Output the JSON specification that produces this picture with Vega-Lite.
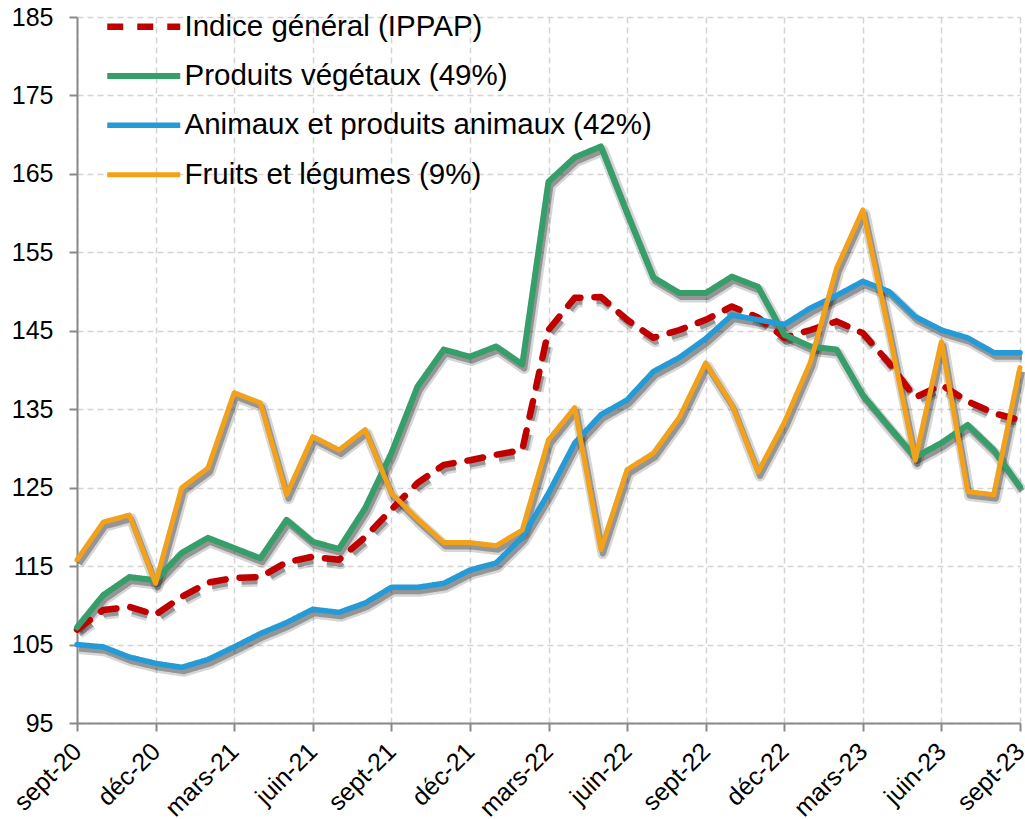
{
  "$schema": "https://vega.github.io/schema/vega-lite/v6.json",
  "autosize": {"type": "none"},
  "width": 943,
  "height": 706,
  "padding": {"left": 77, "top": 17, "right": 5, "bottom": 96},
  "background": "white",
  "config": {
    "view": {"stroke": null},
    "font": "Liberation Sans",
    "axis": {"labelFont": "Liberation Sans", "labelColor": "#000", "labelFontSize": 25,
      "domainColor": "#898989", "domainWidth": 2, "tickColor": "#898989", "tickWidth": 2, "tickSize": 8,
      "gridColor": "#d4d4d4", "gridDash": [6, 4], "gridWidth": 1.5, "title": null},
    "legend": {"title": null, "orient": "none", "legendX": 52, "legendY": -5, "padding": 0,
      "symbolType": "M-4,0H4", "symbolSize": 333, "symbolStrokeWidth": 5, "symbolOpacity": 1,
      "labelFontSize": 29.5, "labelFont": "Liberation Sans", "labelColor": "#000", "labelOffset": 26, "labelLimit": 700, "rowPadding": 18.3}
  },
  "data": {"values": [
    {"mois": "sept-20", "ind": 106.9, "veg": 107.2, "ani": 105.0, "fru": 115.8},
    {"mois": "oct-20", "ind": 109.4, "veg": 111.3, "ani": 104.7, "fru": 120.6},
    {"mois": "nov-20", "ind": 109.8, "veg": 113.6, "ani": 103.4, "fru": 121.5},
    {"mois": "déc-20", "ind": 108.8, "veg": 113.2, "ani": 102.6, "fru": 112.8},
    {"mois": "janv-21", "ind": 111.1, "veg": 116.7, "ani": 102.1, "fru": 125.0},
    {"mois": "févr-21", "ind": 112.9, "veg": 118.6, "ani": 103.1, "fru": 127.5},
    {"mois": "mars-21", "ind": 113.5, "veg": 117.3, "ani": 104.7, "fru": 137.1},
    {"mois": "avr-21", "ind": 113.6, "veg": 116.0, "ani": 106.4, "fru": 135.8},
    {"mois": "mai-21", "ind": 115.5, "veg": 120.9, "ani": 107.8, "fru": 124.1},
    {"mois": "juin-21", "ind": 116.2, "veg": 118.1, "ani": 109.5, "fru": 131.5},
    {"mois": "juil-21", "ind": 115.8, "veg": 117.2, "ani": 109.1, "fru": 129.8},
    {"mois": "août-21", "ind": 118.7, "veg": 122.4, "ani": 110.3, "fru": 132.4},
    {"mois": "sept-21", "ind": 122.2, "veg": 129.4, "ani": 112.3, "fru": 124.3},
    {"mois": "oct-21", "ind": 125.6, "veg": 137.9, "ani": 112.3, "fru": 121.0},
    {"mois": "nov-21", "ind": 127.9, "veg": 142.6, "ani": 112.8, "fru": 118.0},
    {"mois": "déc-21", "ind": 128.5, "veg": 141.7, "ani": 114.5, "fru": 118.0},
    {"mois": "janv-22", "ind": 129.2, "veg": 143.0, "ani": 115.4, "fru": 117.6},
    {"mois": "févr-22", "ind": 129.8, "veg": 140.7, "ani": 118.7, "fru": 119.6},
    {"mois": "mars-22", "ind": 145.1, "veg": 164.0, "ani": 124.3, "fru": 131.1},
    {"mois": "avr-22", "ind": 149.2, "veg": 167.1, "ani": 130.7, "fru": 135.2},
    {"mois": "mai-22", "ind": 149.3, "veg": 168.5, "ani": 134.3, "fru": 117.1},
    {"mois": "juin-22", "ind": 146.4, "veg": 160.0, "ani": 136.2, "fru": 127.3},
    {"mois": "juil-22", "ind": 144.1, "veg": 151.8, "ani": 139.8, "fru": 129.4},
    {"mois": "août-22", "ind": 145.1, "veg": 149.8, "ani": 141.6, "fru": 134.0},
    {"mois": "sept-22", "ind": 146.4, "veg": 149.8, "ani": 144.0, "fru": 140.9},
    {"mois": "oct-22", "ind": 148.1, "veg": 151.9, "ani": 147.0, "fru": 135.6},
    {"mois": "nov-22", "ind": 146.7, "veg": 150.6, "ani": 146.4, "fru": 127.0},
    {"mois": "déc-22", "ind": 144.1, "veg": 144.5, "ani": 145.8, "fru": 133.3},
    {"mois": "janv-23", "ind": 145.1, "veg": 143.0, "ani": 147.9, "fru": 141.0},
    {"mois": "févr-23", "ind": 146.2, "veg": 142.6, "ani": 149.5, "fru": 153.0},
    {"mois": "mars-23", "ind": 144.7, "veg": 136.8, "ani": 151.3, "fru": 160.4},
    {"mois": "avr-23", "ind": 140.9, "veg": 132.8, "ani": 150.0, "fru": 144.8},
    {"mois": "mai-23", "ind": 136.5, "veg": 128.9, "ani": 146.8, "fru": 128.5},
    {"mois": "juin-23", "ind": 138.1, "veg": 130.7, "ani": 145.1, "fru": 143.6},
    {"mois": "juil-23", "ind": 136.0, "veg": 133.0, "ani": 144.1, "fru": 124.5},
    {"mois": "août-23", "ind": 134.5, "veg": 129.8, "ani": 142.2, "fru": 124.1},
    {"mois": "sept-23", "ind": 133.6, "veg": 125.1, "ani": 142.2, "fru": 140.3}
  ]},
  "transform": [
    {"fold": ["ind", "veg", "ani", "fru"], "as": ["serie", "valeur"]}
  ],
  "encoding": {
    "x": {"field": "mois", "type": "ordinal", "sort": null,
      "scale": {"type": "point", "padding": 0},
      "axis": {"values": ["sept-20", "déc-20", "mars-21", "juin-21", "sept-21", "déc-21", "mars-22", "juin-22", "sept-22", "déc-22", "mars-23", "juin-23", "sept-23"],
        "labelAngle": -45, "labelAlign": "right", "labelBaseline": "middle", "labelPadding": 16, "labelFontSize": 25, "grid": true}},
    "y": {"field": "valeur", "type": "quantitative",
      "scale": {"domain": [95, 185], "nice": false, "zero": false},
      "axis": {"values": [95, 105, 115, 125, 135, 145, 155, 165, 175, 185], "labelPadding": 16, "grid": true}},
    "strokeDash": {"field": "serie", "type": "nominal",
      "scale": {"domain": ["ind", "veg", "ani", "fru"], "range": [[16, 14], [1, 0], [1, 0], [1, 0]]},
      "legend": {"labelExpr": "datum.label == 'ind' ? 'Indice général (IPPAP)' : datum.label == 'veg' ? 'Produits végétaux (49%)' : datum.label == 'ani' ? 'Animaux et produits animaux (42%)' : 'Fruits et légumes (9%)'"}}
  },
  "layer": [
    {
      "mark": {"type": "line", "color": "#000", "opacity": 0.16, "strokeWidth": 11, "xOffset": 2, "yOffset": 4, "strokeJoin": "round"}
    },
    {
      "mark": {"type": "line", "color": "#000", "opacity": 0.3, "strokeWidth": 6, "xOffset": 2, "yOffset": 4, "strokeJoin": "round"}
    },
    {
      "mark": {"type": "line", "strokeJoin": "round", "strokeCap": "round"},
      "encoding": {
        "color": {"field": "serie", "type": "nominal",
          "scale": {"domain": ["ind", "veg", "ani", "fru"], "range": ["#C00000", "#369E69", "#249AD6", "#F2A11B"]},
          "legend": {"labelExpr": "datum.label == 'ind' ? 'Indice général (IPPAP)' : datum.label == 'veg' ? 'Produits végétaux (49%)' : datum.label == 'ani' ? 'Animaux et produits animaux (42%)' : 'Fruits et légumes (9%)'"}},
        "strokeWidth": {"field": "serie", "type": "nominal", "legend": null,
          "scale": {"domain": ["ind", "veg", "ani", "fru"], "range": [6.5, 5, 5, 5]}}
      }
    }
  ]
}
